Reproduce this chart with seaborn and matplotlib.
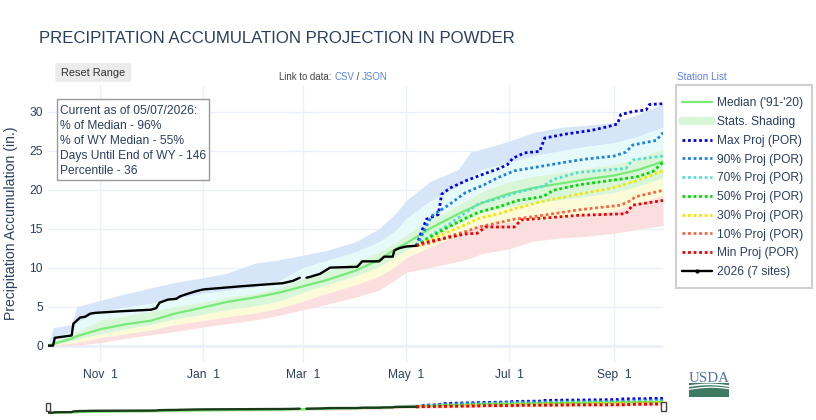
import numpy as np
import pandas as pd
import matplotlib
matplotlib.use("Agg")
import matplotlib.pyplot as plt
from matplotlib.lines import Line2D
from matplotlib.patches import Rectangle, FancyBboxPatch
import seaborn as sns

# ---------------- data ----------------
x_start, x_end = "2025-10-01", "2026-09-30"
xtick_dates = ["2025-11-01", "2026-01-01", "2026-03-01", "2026-05-01", "2026-07-01", "2026-09-01"]
xtick_labels = ["Nov  1", "Jan  1", "Mar  1", "May  1", "Jul  1", "Sep  1"]
ytick_values = [0, 5, 10, 15, 20, 25, 30]

shade_dates = ["2025-10-01", "2025-10-04", "2025-10-15", "2025-10-18", "2025-11-01",
               "2025-11-15", "2025-12-01", "2025-12-15", "2026-01-01", "2026-01-15",
               "2026-02-01", "2026-02-15", "2026-03-01", "2026-03-15", "2026-04-01",
               "2026-04-15", "2026-04-25", "2026-05-01", "2026-05-15", "2026-06-01",
               "2026-06-08", "2026-06-15", "2026-07-01", "2026-07-15", "2026-08-01",
               "2026-08-15", "2026-09-01", "2026-09-15", "2026-09-30"]
stat_max = [0, 2.3, 2.7, 5.0, 5.8, 6.6, 7.4, 8.1, 8.7, 9.3, 10.6, 11.0, 11.6, 12.2, 13.3,
            15.0, 17.0, 18.6, 21.0, 22.6, 24.8, 25.2, 26.2, 27.3, 28.0, 28.2, 28.6, 29.6, 31.0]
stat_p90 = [0, 1.0, 1.8, 3.0, 4.4, 4.9, 5.4, 6.0, 6.7, 7.1, 7.5, 8.3, 10.0, 10.9, 12.0,
            13.3, 14.8, 16.3, 18.5, 20.5, 21.5, 22.6, 23.5, 24.3, 25.0, 25.5, 26.0, 26.8, 28.0]
stat_p70 = [0, 0.6, 1.2, 1.8, 3.3, 3.8, 4.4, 5.0, 5.6, 6.2, 6.7, 7.4, 8.6, 9.6, 10.7,
            12.0, 13.2, 14.2, 16.0, 18.0, 18.9, 19.8, 21.0, 21.7, 22.2, 22.7, 23.2, 24.0, 25.2]
stat_median = [0, 0.2, 0.9, 1.2, 2.1, 2.7, 3.2, 4.1, 4.9, 5.6, 6.2, 6.8, 7.6, 8.4, 9.6,
               11.0, 12.4, 13.1, 15.0, 16.9, 17.6, 18.3, 19.5, 20.2, 20.8, 21.3, 21.8, 22.5, 23.6]
stat_p30 = [0, 0.15, 0.6, 0.8, 1.5, 2.1, 2.7, 3.4, 4.0, 4.6, 5.1, 5.7, 6.8, 7.8, 8.9,
            10.1, 11.4, 12.2, 13.8, 15.6, 16.3, 17.0, 17.8, 18.3, 18.7, 19.1, 19.6, 20.4, 21.5]
stat_p10 = [0, 0.1, 0.3, 0.4, 1.0, 1.5, 2.0, 2.7, 3.2, 3.7, 4.2, 4.8, 5.7, 6.7, 7.8,
            8.9, 10.2, 11.3, 12.6, 14.2, 14.9, 15.5, 15.8, 16.1, 16.4, 16.8, 17.3, 18.2, 19.3]
stat_min = [0, 0, 0, 0.05, 0.4, 0.9, 1.4, 1.8, 2.4, 2.8, 3.3, 3.9, 4.6, 5.3, 6.2,
            7.1, 8.5, 9.4, 10.0, 10.8, 11.2, 11.8, 12.4, 13.4, 13.8, 14.0, 14.4, 14.9, 15.4]

cur_dates = ["2025-10-01", "2025-10-04", "2025-10-05", "2025-10-15", "2025-10-16", "2025-10-20",
             "2025-10-23", "2025-10-26", "2025-10-29", "2025-11-13", "2025-12-01", "2025-12-04",
             "2025-12-06", "2025-12-11", "2025-12-16", "2025-12-18", "2025-12-22", "2025-12-28",
             "2026-01-01", "2026-01-23", "2026-02-17", "2026-02-23", "2026-02-27", "2026-02-28",
             "2026-03-03", "2026-03-05", "2026-03-11", "2026-03-17", "2026-04-02", "2026-04-05",
             "2026-04-15", "2026-04-18", "2026-04-23", "2026-04-24", "2026-04-27", "2026-05-01",
             "2026-05-07"]
cur_values = [0, 0, 1.0, 1.3, 2.8, 3.6, 3.7, 4.1, 4.2, 4.4, 4.6, 4.8, 5.5, 5.9, 6.0, 6.3,
              6.6, 7.0, 7.2, 7.6, 8.0, 8.3, 8.7, np.nan, 8.7, 8.8, 9.2, 10.0, 10.1, 10.8,
              10.8, 11.4, 11.4, 12.2, 12.5, 12.7, 12.8]

max_proj_dates = ["2026-05-07", "2026-05-11", "2026-05-13", "2026-05-20", "2026-05-22", "2026-05-27",
                  "2026-06-05", "2026-06-16", "2026-06-25", "2026-06-30", "2026-07-03", "2026-07-10",
                  "2026-07-19", "2026-07-22", "2026-08-03", "2026-08-19", "2026-08-29", "2026-09-03",
                  "2026-09-05", "2026-09-12", "2026-09-20", "2026-09-22", "2026-09-30"]
max_proj = [12.8, 15.1, 16.2, 16.8, 19.4, 20.2, 21.1, 22.0, 22.7, 23.2, 24.0, 24.7,
            24.9, 26.6, 27.1, 27.6, 28.1, 28.4, 29.6, 30.0, 30.2, 30.9, 31.0]
p90_proj_dates = ["2026-05-07", "2026-05-10", "2026-05-16", "2026-05-26", "2026-06-05", "2026-06-16",
                  "2026-06-25", "2026-07-04", "2026-07-15", "2026-08-03", "2026-08-15", "2026-09-01",
                  "2026-09-08", "2026-09-12", "2026-09-26", "2026-09-30"]
p90_proj = [12.8, 14.0, 16.6, 18.0, 19.6, 20.6, 21.6, 22.4, 22.8, 23.5, 23.9, 24.3,
            24.8, 25.7, 26.3, 27.3]
p70_proj_dates = ["2026-05-07", "2026-05-16", "2026-05-26", "2026-06-05", "2026-06-13", "2026-06-25",
                  "2026-07-05", "2026-07-21", "2026-07-27", "2026-08-11", "2026-09-08", "2026-09-12",
                  "2026-09-30"]
p70_proj = [12.8, 14.2, 15.5, 17.0, 18.2, 18.9, 19.6, 20.4, 21.3, 22.2, 22.7, 23.8, 24.3]
p50_proj_dates = ["2026-05-07", "2026-05-16", "2026-05-26", "2026-06-05", "2026-06-13", "2026-06-25",
                  "2026-07-06", "2026-07-21", "2026-07-27", "2026-08-11", "2026-08-31", "2026-09-14",
                  "2026-09-24", "2026-09-30"]
p50_proj = [12.8, 14.0, 15.2, 16.3, 17.1, 17.8, 18.6, 19.1, 19.9, 20.6, 21.2, 21.6, 22.3, 23.5]
p30_proj_dates = ["2026-05-07", "2026-05-16", "2026-05-26", "2026-06-05", "2026-06-13", "2026-06-25",
                  "2026-07-05", "2026-07-21", "2026-08-11", "2026-08-31", "2026-09-14", "2026-09-30"]
p30_proj = [12.8, 13.6, 14.6, 15.5, 16.3, 16.9, 17.6, 18.5, 19.4, 20.2, 21.1, 22.4]
p10_proj_dates = ["2026-05-07", "2026-05-16", "2026-05-26", "2026-06-05", "2026-06-13", "2026-07-04",
                  "2026-07-21", "2026-08-11", "2026-09-05", "2026-09-10", "2026-09-14", "2026-09-30"]
p10_proj = [12.8, 13.2, 14.0, 14.6, 15.2, 16.2, 16.7, 17.4, 18.0, 18.5, 19.1, 19.9]
min_proj_dates = ["2026-05-07", "2026-05-10", "2026-05-16", "2026-06-05", "2026-06-12", "2026-06-17",
                  "2026-07-04", "2026-07-08", "2026-07-19", "2026-08-11", "2026-09-08", "2026-09-12",
                  "2026-09-30"]
min_proj = [12.8, 13.1, 13.4, 14.3, 14.4, 15.2, 15.2, 16.1, 16.3, 16.7, 16.9, 18.0, 18.6]

title_text = "PRECIPITATION ACCUMULATION PROJECTION IN POWDER"
ylabel_text = "Precipitation Accumulation (in.)"
info_lines = ["Current as of 05/07/2026:", "% of Median - 96%", "% of WY Median - 55%",
              "Days Until End of WY - 146", "Percentile - 36"]
legend_labels = ["Median ('91-'20)", "Stats. Shading", "Max Proj (POR)", "90% Proj (POR)",
                 "70% Proj (POR)", "50% Proj (POR)", "30% Proj (POR)", "10% Proj (POR)",
                 "Min Proj (POR)", "2026 (7 sites)"]

# ---------------- styling ----------------
W, H = 816, 420
def fx(x): return x / W
def fy(y): return 1 - y / H

sns.set_theme(style="white")
plt.rcParams["font.family"] = ["Liberation Sans", "DejaVu Sans"]
TXT = "#2a3f5f"
GRID = "#ebf0f8"
C_BLUE, C_CYAN, C_GREEN, C_YEL, C_PINK = "#d6e6f8", "#e6fafa", "#d9f6d9", "#fbfbd8", "#fbdfdf"
C_MED = "#78ea78"
proj_colors = ["#0000ee", "#1f80e6", "#55ddd2", "#00d800", "#f2e600", "#ff6040", "#ee0000"]
PX = 0.72  # points per pixel at dpi 100
LW_CUR, LW_MED, LW_DOT = 1.7, 1.6, 2.0

fig = plt.figure(figsize=(W / 100, H / 100), dpi=100)
fig.patch.set_facecolor("white")

L, R, T, B = 48, 663, 85, 362
ax = fig.add_axes([fx(L), fy(B), (R - L) / W, (B - T) / H])

stats = pd.DataFrame({"date": pd.to_datetime(shade_dates), "max": stat_max, "p90": stat_p90,
                      "p70": stat_p70, "median": stat_median, "p30": stat_p30,
                      "p10": stat_p10, "min": stat_min})
cur = pd.DataFrame({"date": pd.to_datetime(cur_dates), "value": cur_values})
cur["seg"] = cur["value"].isna().cumsum()
cur = cur.dropna()

projections = [(max_proj_dates, max_proj), (p90_proj_dates, p90_proj), (p70_proj_dates, p70_proj),
               (p50_proj_dates, p50_proj), (p30_proj_dates, p30_proj), (p10_proj_dates, p10_proj),
               (min_proj_dates, min_proj)]
dot = (0, (1, 1))


def draw(a, lw_scale=1.0, slider=False):
    bands = [("p90", "max", C_BLUE), ("p70", "p90", C_CYAN), ("p30", "p70", C_GREEN),
             ("p10", "p30", C_YEL), ("min", "p10", C_PINK)]
    for lo, hi, c in bands:
        a.fill_between(stats["date"], stats[lo], stats[hi], color=c, lw=0, zorder=1)
    sns.lineplot(data=stats, x="date", y="median", ax=a, color=C_MED, lw=LW_MED * lw_scale,
                 legend=False, zorder=3)
    sns.lineplot(data=cur, x="date", y="value", units="seg", estimator=None, ax=a,
                 color="black" if not slider else "#1a3a1a", lw=LW_CUR * lw_scale,
                 legend=False, zorder=5)
    for (d, v), c in zip(projections, proj_colors):
        df = pd.DataFrame({"date": pd.to_datetime(d), "value": v})
        sns.lineplot(data=df, x="date", y="value", ax=a, color=c, lw=LW_DOT * lw_scale,
                     linestyle=dot, legend=False, zorder=4)
    a.set_xlim(pd.Timestamp(x_start), pd.Timestamp(x_end))
    a.set_ylim(-2.1, 33.4)
    a.set_xlabel("")
    a.set_ylabel("")


draw(ax)
ax.set_xticks(pd.to_datetime(xtick_dates))
ax.set_xticklabels(xtick_labels)
ax.set_yticks(ytick_values)
ax.set_yticklabels([str(v) for v in ytick_values])
ax.grid(True, color=GRID, lw=1)
ax.set_axisbelow(True)
ax.axhline(0, color=GRID, lw=2, zorder=0.6)
for s in ax.spines.values():
    s.set_visible(False)
ax.tick_params(axis="both", length=0, labelsize=12 * PX, labelcolor=TXT)
ax.tick_params(axis="y", pad=3.6)
ax.tick_params(axis="x", pad=5)

# range slider
ax2 = fig.add_axes([fx(L), fy(413.7), (R - L) / W, 16.5 / H])
draw(ax2, lw_scale=1.0, slider=True)
ax2.axis("off")
for (x0, x1, y0, y1) in [(45.7, 49.7, 402.7, 410.7), (661.0, 665.7, 402.0, 410.7)]:
    fig.patches.append(Rectangle((fx(x0), fy(y1)), (x1 - x0) / W, (y1 - y0) / H,
                                 transform=fig.transFigure, facecolor="white",
                                 edgecolor="#444444", lw=1, zorder=10))

# title and labels
fig.text(fx(39.3), fy(43.3), title_text, fontsize=16.7 * PX, color=TXT, va="baseline", ha="left")
fig.text(fx(11), fy(223.5), ylabel_text, fontsize=14 * PX, color=TXT, rotation=90,
         va="center", ha="center")

# reset range button
fig.patches.append(FancyBboxPatch((fx(57), fy(81)), (129.7 - 57) / W, (81 - 63.7) / H,
                                  boxstyle="round,pad=0.002", transform=fig.transFigure,
                                  facecolor="#ebebeb", edgecolor="none", zorder=1))
fig.text(fx(93.4), fy(76), "Reset Range", fontsize=11 * PX, color="#333333",
         ha="center", va="baseline")

# link to data
fs_link = 9.6
x0 = 279.3
parts = [("Link to data: ", "#444444"), ("CSV", "#5b86e5"), (" / ", "#444444"), ("JSON", "#5b86e5")]
fig.canvas.draw()
rend = fig.canvas.get_renderer()
for txt, col in parts:
    t = fig.text(fx(x0), fy(80), txt, fontsize=fs_link * PX, color=col, ha="left", va="baseline")
    bb = t.get_window_extent(renderer=rend)
    x0 += bb.width
fig.text(fx(677), fy(80.5), "Station List", fontsize=10 * PX, color="#5f7fe0", ha="left", va="baseline")

# info box
fig.patches.append(Rectangle((fx(57.3), fy(180)), (208.7 - 57.3) / W, (180 - 99.3) / H,
                             transform=fig.transFigure, facecolor="white", edgecolor="#999999",
                             lw=1, zorder=20))
for i, line in enumerate(info_lines):
    fig.text(fx(60.3), fy(113.6 + 15.2 * i), line, fontsize=12 * PX, color=TXT,
             ha="left", va="baseline", zorder=21)

# legend
handles = [Line2D([], [], color=C_MED, lw=LW_MED),
           Line2D([], [], color=C_GREEN, lw=6)]
for c in proj_colors:
    handles.append(Line2D([], [], color=c, lw=LW_DOT, linestyle=dot))
handles.append(Line2D([], [], color="black", lw=LW_CUR, marker="o", markersize=2))
fig.patches.append(Rectangle((fx(676), fy(288)), (811.7 - 676) / W, (288 - 85) / H,
                             transform=fig.transFigure, facecolor="white", edgecolor="#d0d0d0",
                             lw=1.5, zorder=0.5))
leg = fig.legend(handles, legend_labels, loc="upper left", bbox_to_anchor=(fx(681.7), fy(97.2)),
                 frameon=False, fontsize=12 * PX, borderpad=0, borderaxespad=0,
                 handlelength=2.5, handletextpad=0.47, labelspacing=0.565)
for t in leg.get_texts():
    t.set_color(TXT)

# USDA logo
fig.text(fx(689), fy(382), "USDA", fontsize=15 * PX, color="#4f72ad",
         family=["Liberation Serif", "DejaVu Serif"], ha="left", va="baseline")
lax = fig.add_axes([fx(689), fy(397), 40 / W, 14 / H])
lax.add_patch(Rectangle((0, 0), 1, 1, color="#3f7a62"))
xs = np.linspace(0, 1, 50)
lax.plot(xs, 0.78 + 0.12 * np.sin(np.pi * xs), color="white", lw=1.2)
lax.plot(xs, 0.55 + 0.15 * np.sin(np.pi * xs * 0.9), color="white", lw=0.9)
lax.set_xlim(0, 1)
lax.set_ylim(0, 1)
lax.axis("off")

fig.savefig("out.png", dpi=100, facecolor="white")
